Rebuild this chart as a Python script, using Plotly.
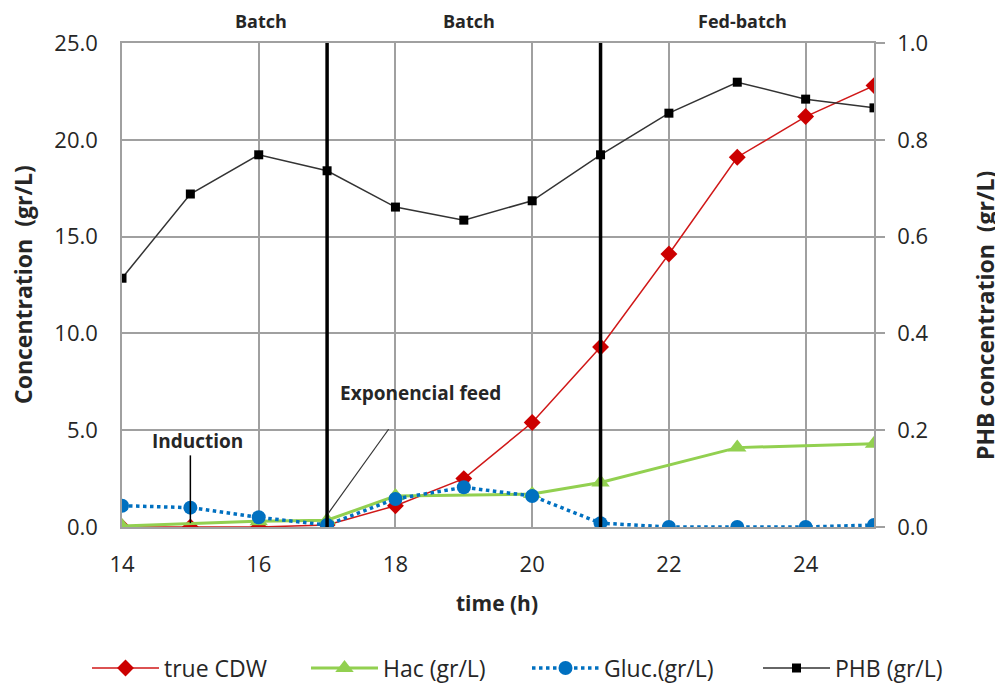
import plotly.graph_objects as go

time_h = [14, 15, 16, 17, 18, 19, 20, 21, 22, 23, 24, 25]
true_cdw = [0.0, 0.0, 0.0, 0.1, 1.1, 2.5, 5.4, 9.3, 14.1, 19.1, 21.2, 22.8]
hac = [0.05, None, 0.3, 0.35, 1.6, None, 1.7, 2.3, None, 4.1, None, 4.3]
gluc = [1.1, 1.0, 0.5, 0.1, 1.45, 2.05, 1.6, 0.2, 0.0, 0.0, 0.0, 0.1]
phb = [0.514, 0.688, 0.769, 0.736, 0.661, 0.634, 0.674, 0.769, 0.855, 0.919, 0.884, 0.866]

phase_bounds = [17, 21]
phase_labels = ["Batch", "Batch", "Fed-batch"]
phase_label_x = [16.03, 19.08, 23.07]
y_ticks = [0, 5, 10, 15, 20, 25]
y2_ticks = [0, 0.2, 0.4, 0.6, 0.8, 1.0]
x_ticks = [14, 16, 18, 20, 22, 24]

FONT = "'Open Sans', sans-serif"
TXT = "#262626"
GRID = "#a0a0a0"

# page body has an 8px margin; plot area should land at screen x 122..874, y 43..527
OFF = 8
PL, PR, PT, PB = 122, 874, 43, 527
W, H = 1003, 688
PW, PH = PR - PL, PB - PT


def px(xs):
    return (xs - PL) / PW


def py(ys):
    return (PB - ys) / PH


fig = go.Figure()
fig.add_trace(go.Scatter(
    x=time_h, y=true_cdw, name="true CDW", mode="lines+markers", legend="legend",
    line=dict(color="#d01818", width=1.5),
    marker=dict(symbol="diamond", size=13, color="#cc0000")))
fig.add_trace(go.Scatter(
    x=time_h, y=hac, name="Hac (gr/L)", mode="lines+markers", connectgaps=True, legend="legend2",
    line=dict(color="#92d050", width=3),
    marker=dict(symbol="triangle-up", size=16, color="#92d050")))
fig.add_trace(go.Scatter(
    x=time_h, y=gluc, name="Gluc.(gr/L)", mode="lines+markers", legend="legend3",
    line=dict(color="#0070c0", width=3.5, dash="dot"),
    marker=dict(symbol="circle", size=14, color="#0070c0")))
fig.add_trace(go.Scatter(
    x=time_h, y=phb, name="PHB (gr/L)", mode="lines+markers", yaxis="y2", legend="legend4",
    line=dict(color="#333333", width=1.5),
    marker=dict(symbol="square", size=9, color="#000000")))

for xb in phase_bounds:
    fig.add_shape(type="line", xref="x", yref="y", x0=xb, x1=xb, y0=0, y1=25.25,
                  line=dict(color="black", width=3.5), layer="above")

# annotation pointer lines
fig.add_shape(type="line", xref="x", yref="y", x0=15.0, x1=15.0, y0=3.7, y1=0.2,
              line=dict(color="black", width=1.5))
fig.add_shape(type="line", xref="x", yref="y", x0=17.9, x1=17.02, y0=5.05, y1=0.72,
              line=dict(color="#333333", width=1.2))

fig.add_annotation(x=15.1, y=4.44, xref="x", yref="y", text="<b>Induction</b>",
                   showarrow=False, font=dict(family=FONT, size=19, color=TXT))
fig.add_annotation(x=18.36, y=6.92, xref="x", yref="y", text="<b>Exponencial feed</b>",
                   showarrow=False, font=dict(family=FONT, size=19, color=TXT))

for lbl, lx in zip(phase_labels, phase_label_x):
    fig.add_annotation(x=lx, y=py(21), xref="x", yref="paper", xanchor="center", yanchor="middle",
                       text="<b>%s</b>" % lbl,
                       showarrow=False, font=dict(family=FONT, size=18, color=TXT))

# axis titles
fig.add_annotation(x=px(23), y=py(285), xref="paper", yref="paper",
                   xanchor="center", yanchor="middle",
                   text="<b>Concentration  (gr/L)</b>",
                   textangle=-90, showarrow=False, font=dict(family=FONT, size=23, color=TXT))
fig.add_annotation(x=px(985), y=py(315), xref="paper", yref="paper",
                   xanchor="center", yanchor="middle",
                   text="<b>PHB concentration  (gr/L)</b>",
                   textangle=-90, showarrow=False, font=dict(family=FONT, size=23, color=TXT))
fig.add_annotation(x=px(497), y=py(603), xref="paper", yref="paper",
                   xanchor="center", yanchor="middle",
                   text="<b>time (h)</b>",
                   showarrow=False, font=dict(family=FONT, size=21, color=TXT))

legend_line_starts = [92, 311, 532, 763]
legend_common = dict(orientation="h", xref="container", yref="container", xanchor="left",
                     y=1 - (668 - OFF) / H, yanchor="middle", bgcolor="rgba(0,0,0,0)",
                     font=dict(family=FONT, size=23, color=TXT), itemwidth=67)
legends = {}
for i, xs in enumerate(legend_line_starts):
    key = "legend" if i == 0 else "legend%d" % (i + 1)
    legends[key] = dict(legend_common, x=(xs - 5 - OFF) / W)

fig.update_layout(
    width=W, height=H,
    margin=dict(l=PL - OFF, r=W + OFF - PR, t=PT - OFF, b=H + OFF - PB, autoexpand=False),
    paper_bgcolor="white", plot_bgcolor="white",
    font=dict(family=FONT, color=TXT),
    showlegend=True,
    xaxis=dict(range=[14, 25], tickvals=x_ticks, showgrid=True, gridcolor=GRID, gridwidth=1.5,
               showline=True, mirror=True, linecolor=GRID, linewidth=1.5, zeroline=False,
               ticks="", tickfont=dict(family=FONT, size=22, color=TXT), ticklabelstandoff=17),
    yaxis=dict(range=[0, 25], tickvals=y_ticks, tickformat=".1f", showgrid=True, gridcolor=GRID,
               gridwidth=1.5, showline=True, linecolor=GRID, linewidth=1.5, zeroline=False,
               ticks="", tickfont=dict(family=FONT, size=22, color=TXT), ticklabelstandoff=18),
    yaxis2=dict(range=[0, 1], tickvals=y2_ticks, tickformat=".1f", overlaying="y", side="right",
                showgrid=False, showline=True, linecolor=GRID, linewidth=1.5, zeroline=False,
                ticks="outside", ticklen=9, tickcolor=GRID, tickwidth=1.5,
                tickfont=dict(family=FONT, size=22, color=TXT), ticklabelstandoff=8),
    **legends,
)

fig.write_html("out.html")
